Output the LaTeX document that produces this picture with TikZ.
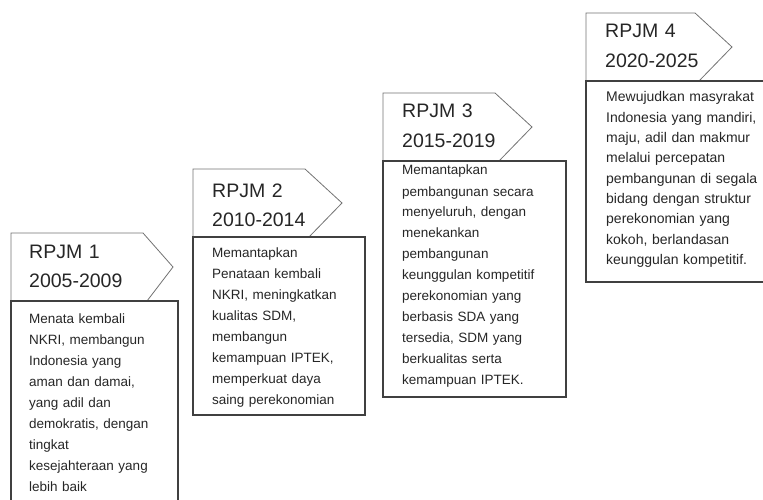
\documentclass[tikz,border=0pt]{standalone}
\usepackage{fontspec}
\setmainfont{Liberation Sans}
\usepackage{tikz}

\begin{document}
\begin{tikzpicture}[x=1pt, y=-1pt,
    tab/.style={draw=black!55, line width=0.8pt, fill=white},
    frame/.style={draw=black!75, line width=1.3pt},
    head/.style={anchor=base west, inner sep=0pt, text=black!85, text width=140pt, align=left,
      font=\fontsize{19.5}{29.5}\selectfont},
    body/.style={anchor=base west, inner sep=0pt, text=black!85, text width=200pt, align=left,
      font=\fontsize{13.5}{21}\selectfont}]
  \clip (0, 0) rectangle (763, 500);

  % left / top / end of top edge / tip / right / bottom
  \foreach \l/\t/\e/\p/\r/\b in {11/233/143/173/178/512, 193/169/305/342/365/415,
      383/93/495/532/566/397, 586/13/695/732/772/282} {
    \pgfmathsetmacro{\h}{\t+68}
    \draw[tab] (\l, \h) -- (\l, \t) -- (\e, \t) -- (\p, {\t+34}) -- ({\e+4}, \h);
    \draw[frame] (\l, \h) rectangle (\r, \b);
  }

  \node[head] (head1) at (29, 258) {RPJM 1\\2005-2009};
  \node[head] (head2) at (212, 197) {RPJM 2\\2010-2014};
  \node[head] (head3) at (402, 118) {RPJM 3\\2015-2019};
  \node[head] (head4) at (605, 38) {RPJM 4\\2020-2025};

  \node[body] (body1) at (29, 323) {Menata kembali\\NKRI, membangun\\Indonesia yang\\aman dan damai,\\yang adil dan\\demokratis, dengan\\tingkat\\kesejahteraan yang\\lebih baik};
  \node[body] (body2) at (212, 257) {Memantapkan\\Penataan kembali\\NKRI, meningkatkan\\kualitas SDM,\\membangun\\kemampuan IPTEK,\\memperkuat daya\\saing perekonomian};
  \node[body] (body3) at (402, 175) {Memantapkan\\pembangunan secara\\menyeluruh, dengan\\menekankan\\pembangunan\\keunggulan kompetitif\\perekonomian yang\\berbasis SDA yang\\tersedia, SDM yang\\berkualitas serta\\kemampuan IPTEK.};
  \node[body, font=\fontsize{14}{20.3}\selectfont] (body4) at (606, 102) {Mewujudkan masyrakat\\Indonesia yang mandiri,\\maju, adil dan makmur\\melalui percepatan\\pembangunan di segala\\bidang dengan struktur\\perekonomian yang\\kokoh, berlandasan\\keunggulan kompetitif.};
\end{tikzpicture}
\end{document}
